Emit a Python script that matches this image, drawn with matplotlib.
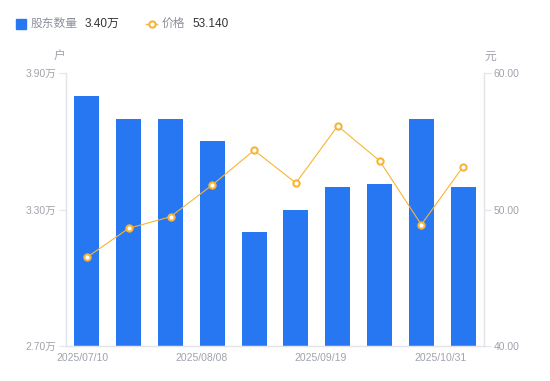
import numpy as np
import matplotlib
matplotlib.use("Agg")
import matplotlib.pyplot as plt
from matplotlib.lines import Line2D

plt.rcParams['font.family'] = ['Liberation Sans', 'Noto Sans CJK SC', 'DejaVu Sans']

# data
dates = ["2025/07/10", "2025/07/18", "2025/07/31", "2025/08/08", "2025/08/20",
         "2025/08/29", "2025/09/19", "2025/09/30", "2025/10/20", "2025/10/31"]
holders = [3.80, 3.70, 3.70, 3.60, 3.20, 3.30, 3.40, 3.41, 3.70, 3.40]   # 万户
price = [46.50, 48.62, 49.47, 51.80, 54.34, 51.94, 56.12, 53.58, 48.89, 53.14]
xlabel_pos = [-0.1, 2.75, 5.6, 8.47]
xlabels = ["2025/07/10", "2025/08/08", "2025/09/19", "2025/10/31"]
left_ticks = [2.70, 3.30, 3.90]
right_ticks = [40.0, 50.0, 60.0]

BLUE = "#2777F2"
ORANGE = "#F8B437"
GREY = "#A0A3AD"
AXIS = "#E3E5EA"
W, H = 550, 381

fig = plt.figure(figsize=(5.5, 3.81), dpi=100)
ax = fig.add_axes([66 / W, 35 / H, 418 / W, 273 / H])
ax2 = ax.twinx()

x = np.arange(len(dates))
ax.bar(x, holders, width=0.6, color=BLUE, zorder=2)
ax.set_xlim(-0.5, len(dates) - 0.5)
ax.set_ylim(2.70, 3.90)
ax.set_yticks(left_ticks)
ax.set_yticklabels(["%.2f万" % v for v in left_ticks])

ax2.plot(x, price, color=ORANGE, lw=0.8, marker="o", ms=4.5, mfc="white",
         mec=ORANGE, mew=1.5, zorder=3)
ax2.set_ylim(40, 60)
ax2.set_yticks(right_ticks)
ax2.set_yticklabels(["%.2f" % v for v in right_ticks])

ax.set_xticks(xlabel_pos)
ax.set_xticklabels(xlabels)
ax.tick_params(axis="x", length=0, pad=5, labelsize=7.5, colors=GREY)
ax.tick_params(axis="y", length=5, width=0.8, color=AXIS, pad=2, labelsize=7.5, labelcolor=GREY)
ax2.tick_params(axis="y", length=5, width=0.8, color=AXIS, pad=2, labelsize=7.5, labelcolor=GREY)

for a in (ax, ax2):
    a.spines["top"].set_visible(False)
    for s in ("left", "right", "bottom"):
        a.spines[s].set_color(AXIS)
        a.spines[s].set_linewidth(0.9)

# axis units
fig.text(59 / W, 1 - 57 / H, "户", fontsize=8.5, color=GREY, ha="center", va="center")
fig.text(490 / W, 1 - 57 / H, "元", fontsize=8.5, color=GREY, ha="center", va="center")

# legend, drawn by hand so the name and value get different colours
ly = 1 - 24 / H
fig.add_artist(Line2D([21 / W], [ly], marker="s", ms=6.5, color=BLUE, ls="none"))
fig.text(31 / W, ly, "股东数量", fontsize=8.5, color="#8C909A", va="center")
fig.text(85 / W, ly, "%.2f万" % holders[-1], fontsize=8.5, color="#333333", va="center")
fig.add_artist(Line2D([146 / W, 157 / W], [ly, ly], color=ORANGE, lw=1))
fig.add_artist(Line2D([151.5 / W], [ly], marker="o", ms=4.5, mfc="white", mec=ORANGE,
                      mew=1.5, ls="none"))
fig.text(162 / W, ly, "价格", fontsize=8.5, color="#8C909A", va="center")
fig.text(192 / W, ly, "%.3f" % price[-1], fontsize=8.5, color="#333333", va="center")

fig.savefig("out.png", dpi=100)
